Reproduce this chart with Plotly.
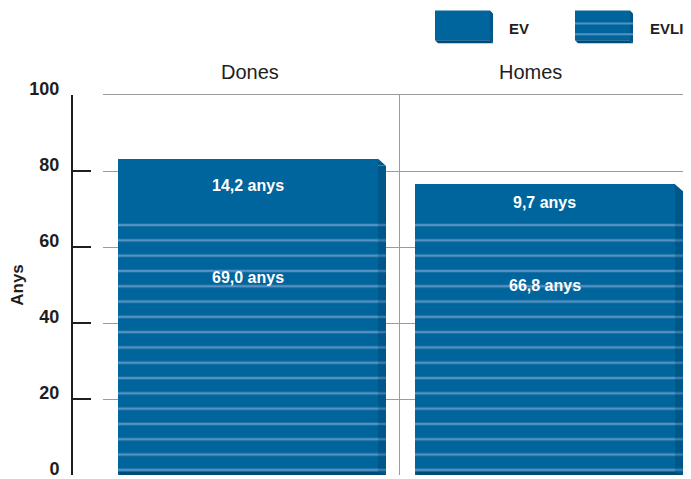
import plotly.graph_objects as go

# ---- data ----
categories = ["Dones", "Homes"]
evli = [69.0, 66.8]      # EVLI (striped, bottom)
ev = [14.2, 9.7]         # EV (solid, top)
series_names = ["EV", "EVLI"]
y_ticks = [0, 20, 40, 60, 80, 100]
unit = "anys"
y_title = "Anys"

# ---- style ----
PAGE_W, PAGE_H = 691, 479
BODY = 8                      # default page body margin
W, H = PAGE_W - BODY, PAGE_H - BODY
BLUE = "#00659c"
STRIPE = "#5592c2"
SIDE = "#00578a"
SIDE_STRIPE = "#3a7cad"
DARK = "#004a78"
GRID = "#9b9b9b"
TXT = "#1e1e1e"
FONT = "Liberation Sans, Arial, Helvetica, sans-serif"

# layout positions in page pixels
L_PLOT, T_PLOT, B_PLOT = 103, 95, 477
def px(x):
    return (x - BODY) / W
def py(y):
    return (B_PLOT - y) / (B_PLOT - T_PLOT)

FRONT_OFF, FRONT_W = -0.4495, 0.8754
SIDE_OFF, SIDE_W = FRONT_OFF + FRONT_W, 0.027
SKEW = 1.8  # y units of the slanted top of side face

fmt = lambda v: f"{v:.1f}".replace(".", ",") + " " + unit
totals = [a + b for a, b in zip(evli, ev)]

fig = go.Figure()
stripe_pat = dict(shape="-", fgcolor=STRIPE, bgcolor=BLUE, size=15.3, solidity=0.16, fillmode="replace")
side_pat = dict(shape="-", fgcolor=SIDE_STRIPE, bgcolor=SIDE, size=15.3, solidity=0.16, fillmode="replace")

# front faces
fig.add_trace(go.Bar(x=categories, y=evli, base=[0, 0], name=series_names[1],
                     offset=FRONT_OFF, width=FRONT_W,
                     marker=dict(color=BLUE, pattern=stripe_pat, line=dict(width=0)),
                     hoverinfo="skip", showlegend=False))
fig.add_trace(go.Bar(x=categories, y=ev, base=evli, name=series_names[0],
                     offset=FRONT_OFF, width=FRONT_W,
                     marker=dict(color=BLUE, line=dict(width=0)),
                     hoverinfo="skip", showlegend=False))
# side faces (3D look)
fig.add_trace(go.Bar(x=categories, y=evli, base=[0, 0],
                     offset=SIDE_OFF, width=SIDE_W,
                     marker=dict(color=SIDE, pattern=side_pat, line=dict(width=0)),
                     hoverinfo="skip", showlegend=False))
fig.add_trace(go.Bar(x=categories, y=[e - SKEW for e in ev], base=evli,
                     offset=SIDE_OFF, width=SIDE_W,
                     marker=dict(color=SIDE, line=dict(width=0)),
                     hoverinfo="skip", showlegend=False))
for i, t in enumerate(totals):
    x0 = i + SIDE_OFF
    x1 = x0 + SIDE_W
    fig.add_shape(type="path", xref="x", yref="y",
                  path=f"M {x0},{t} L {x1},{t - SKEW} L {x0},{t - SKEW} Z",
                  fillcolor=SIDE, line=dict(width=0), layer="above")
    # bottom face
    fx = i + FRONT_OFF
    fig.add_shape(type="path", xref="x", yref="y",
                  path=f"M {fx},{0.8} L {x0},{0.8} L {x1},{0} L {fx + SIDE_W / 3},{0} Z",
                  fillcolor=DARK, line=dict(width=0), layer="above")

# value labels
for i in range(len(categories)):
    xc = i + FRONT_OFF + FRONT_W / 2
    fig.add_annotation(x=xc, y=evli[i] + ev[i] / 2, xref="x", yref="y",
                       text=f"<b>{fmt(ev[i])}</b>", showarrow=False,
                       font=dict(family=FONT, size=16, color="white"))
    fig.add_annotation(x=xc, y=evli[i] - 17, xref="x", yref="y",
                       text=f"<b>{fmt(evli[i])}</b>", showarrow=False,
                       font=dict(family=FONT, size=16, color="white"))

# panel headers
for name, xp in zip(categories, [250, 530]):
    fig.add_annotation(x=px(xp), y=py(72), xref="paper", yref="paper",
                       text=name, showarrow=False, xanchor="center", yanchor="middle",
                       font=dict(family=FONT, size=20, color=TXT))

# legend (drawn)
def legend_box(x0, striped):
    y0, y1, w, d = 10, 40, 55, 3
    fig.add_shape(type="path", xref="paper", yref="paper",
                  path=f"M {px(x0+w)},{py(y0)} L {px(x0+w+d)},{py(y0+d)} L {px(x0+w+d)},{py(y1+d)} L {px(x0+w)},{py(y1)} Z",
                  fillcolor=SIDE, line=dict(width=0))
    fig.add_shape(type="path", xref="paper", yref="paper",
                  path=f"M {px(x0)},{py(y1)} L {px(x0+w)},{py(y1)} L {px(x0+w+d)},{py(y1+d)} L {px(x0+d)},{py(y1+d)} Z",
                  fillcolor=DARK, line=dict(width=0))
    fig.add_shape(type="rect", xref="paper", yref="paper",
                  x0=px(x0), x1=px(x0 + w), y0=py(y1), y1=py(y0),
                  fillcolor=BLUE, line=dict(width=0))
    if striped:
        for ys in (23, 34):
            fig.add_shape(type="line", xref="paper", yref="paper",
                          x0=px(x0), x1=px(x0 + w + d), y0=py(ys), y1=py(ys),
                          line=dict(color=STRIPE, width=2))

legend_box(435, False)
legend_box(575, True)
for name, xl in zip(series_names, [507, 648]):
    fig.add_annotation(x=px(xl), y=py(28), xref="paper", yref="paper",
                       text=f"<b>{name}</b>", showarrow=False, xanchor="left", yanchor="middle",
                       font=dict(family=FONT, size=15, color=TXT))

fig.update_layout(
    width=W, height=H,
    margin=dict(l=0, r=0, t=T_PLOT - BODY, b=PAGE_H - B_PLOT),
    paper_bgcolor="white", plot_bgcolor="white",
    barmode="overlay", bargap=0,
    font=dict(family=FONT, color=TXT),
    xaxis=dict(type="category", domain=[px(L_PLOT), 1], range=[-0.5, 1.48],
               side="top", showline=True, linecolor=GRID, linewidth=1,
               showgrid=True, gridcolor=GRID, gridwidth=1, tickson="boundaries",
               showticklabels=False, ticks="", zeroline=False),
    yaxis=dict(range=[0, 100], tickvals=y_ticks, anchor="free", position=px(72),
               showline=True, linecolor=TXT, linewidth=2,
               ticks="inside", ticklen=18, tickwidth=2, tickcolor=TXT,
               tickfont=dict(family=FONT, size=18, color=TXT, weight="bold"),
               ticklabelstandoff=8, ticklabelshift=-6, ticklabeloverflow="allow",
               showgrid=True, gridcolor=GRID, gridwidth=1, zeroline=False,
               title=dict(text=f"<b>{y_title}</b>", standoff=6,
                          font=dict(family=FONT, size=17, color=TXT))),
    showlegend=False,
)

fig.write_html("out.html")
